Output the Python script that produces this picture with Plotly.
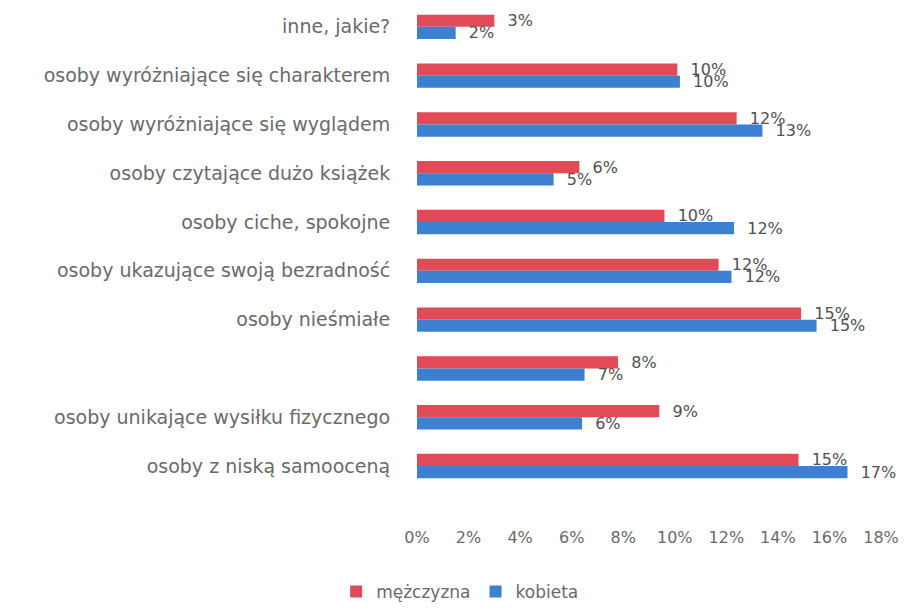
import plotly.graph_objects as go

# top-to-bottom order as in the reference
categories = [
    "inne, jakie?",
    "osoby wyróżniające się charakterem",
    "osoby wyróżniające się wyglądem",
    "osoby czytające dużo książek",
    "osoby ciche, spokojne",
    "osoby ukazujące swoją bezradność",
    "osoby nieśmiałe",
    " ",
    "osoby unikające wysiłku fizycznego",
    "osoby z niską samooceną",
]
men = [3.0, 10.1, 12.4, 6.3, 9.6, 11.7, 14.9, 7.8, 9.4, 14.8]
women = [1.5, 10.2, 13.4, 5.3, 12.3, 12.2, 15.5, 6.5, 6.4, 16.7]
men_labels = ["3%", "10%", "12%", "6%", "10%", "12%", "15%", "8%", "9%", "15%"]
women_labels = ["2%", "10%", "13%", "5%", "12%", "12%", "15%", "7%", "6%", "17%"]
x_ticks = [0, 2, 4, 6, 8, 10, 12, 14, 16, 18]

RED = "#E04B57"
BLUE = "#3D80D0"
GRAY = "#6a6a6a"
FONT = "DejaVu Sans"

fig = go.Figure()
fig.add_trace(go.Bar(
    name="mężczyzna", y=categories, x=men, orientation="h",
    marker=dict(color=RED, line=dict(width=0)),
    text=men_labels, texttemplate="  %{text}", textposition="outside", cliponaxis=False,
    constraintext="none",
    textfont=dict(family=FONT, size=16, color="#505050"),
))
fig.add_trace(go.Bar(
    name="kobieta", y=categories, x=women, orientation="h",
    marker=dict(color=BLUE, line=dict(width=0)),
    text=women_labels, texttemplate="  %{text}", textposition="outside", cliponaxis=False,
    constraintext="none",
    textfont=dict(family=FONT, size=16, color="#505050"),
))

fig.update_layout(
    width=904, height=602,
    barmode="group", bargap=0.5, bargroupgap=0,
    plot_bgcolor="white", paper_bgcolor="white",
    margin=dict(l=409, r=31, t=0, b=110),
    font=dict(family=FONT, color=GRAY),
    showlegend=True,
    legend=dict(orientation="h", x=0.093, xanchor="center", y=-0.197, yanchor="middle",
                font=dict(size=17, color=GRAY), traceorder="normal", itemwidth=30),
    xaxis=dict(range=[0, 18], tickvals=x_ticks,
               ticktext=[f"{v}%" for v in x_ticks],
               showgrid=False, zeroline=False, showline=False, automargin=False,
               ticks="outside", ticklen=27, tickcolor="rgba(0,0,0,0)",
               tickfont=dict(size=16, color=GRAY)),
    yaxis=dict(range=[9.614, -0.386], showgrid=False, zeroline=False, showline=False,
               automargin=False,
               ticks="outside", ticklen=22, tickcolor="rgba(0,0,0,0)",
               tickfont=dict(size=19, color=GRAY)),
)
fig.write_html("out.html")
